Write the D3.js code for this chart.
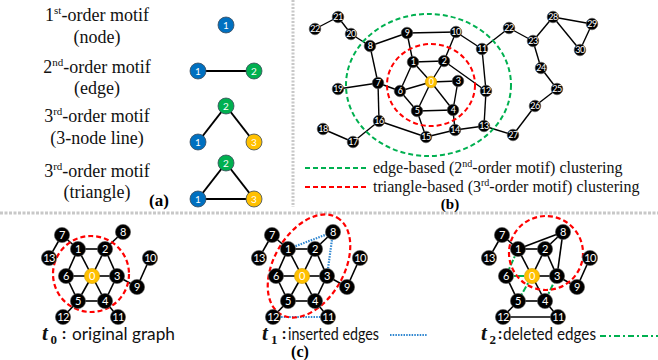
<!DOCTYPE html>
<html>
<head>
<meta charset="utf-8">
<script src="https://cdn.jsdelivr.net/npm/d3@7/dist/d3.min.js"></script>
<style>
  html, body { margin: 0; padding: 0; background: #fff; }
  svg { display: block; }
</style>
</head>
<body>
<script>
// ---------- (a) motif definitions ----------
const motifOrder = ["1", "2", "3", "3"];
const motifSuffix = ["st", "nd", "rd", "rd"];
const motifKind = ["(node)", "(edge)", "(3-node line)", "(triangle)"];
// node: [label, column (0..1), level (0 = top, 1 = bottom)]
const motifNodes = [
  [[1, 0.5, 0]],
  [[1, 0, 0], [2, 1, 0]],
  [[1, 0, 1], [2, 0.5, 0], [3, 1, 1]],
  [[1, 0, 1], [2, 0.5, 0], [3, 1, 1]]
];
const motifEdges = [
  [],
  [[1, 2]],
  [[1, 2], [2, 3]],
  [[1, 2], [2, 3], [1, 3]]
];

// ---------- (b) network ----------
// [id, label, x, y] in layout units
const netNodes = [
  ["0", "0", 141, 82], ["1", "1", 123, 62], ["2", "2", 154, 61], ["3", "3", 168, 81],
  ["4", "4", 163, 110], ["5", "5", 127, 111], ["6", "6", 110, 91], ["7", "7", 88, 83],
  ["8", "8", 80, 46], ["9", "9", 117, 33], ["10", "10", 166, 32], ["11", "11", 192, 49],
  ["12", "12", 196, 91], ["13", "13", 194, 126], ["14", "14", 165, 130], ["15", "15", 136, 137],
  ["16", "16", 89, 121], ["17", "17", 63, 142], ["18", "18", 33, 129], ["19", "19", 48, 89],
  ["20", "20", 61, 34], ["21", "21", 48, 17], ["22", "22", 25, 29], ["22b", "22", 219, 28],
  ["23", "23", 243, 41], ["24", "24", 251, 68], ["25", "25", 267, 89], ["26", "26", 245, 106],
  ["27", "27", 223, 135], ["28", "28", 263, 17], ["29", "29", 302, 24], ["30", "30", 290, 50]
];
const netEdges = [
  ["22", "21"], ["21", "20"], ["20", "8"], ["8", "9"], ["9", "10"], ["8", "7"],
  ["9", "1"], ["10", "2"], ["10", "11"], ["11", "12"], ["11", "22b"], ["22b", "23"],
  ["23", "28"], ["28", "29"], ["29", "30"], ["30", "28"], ["23", "24"], ["24", "25"],
  ["25", "26"], ["26", "27"], ["27", "13"], ["12", "13"], ["13", "14"], ["14", "15"],
  ["15", "16"], ["16", "7"], ["16", "17"], ["17", "18"], ["7", "19"], ["7", "6"],
  ["6", "1"], ["6", "0"], ["6", "5"], ["1", "0"], ["1", "2"], ["2", "0"], ["2", "12"],
  ["0", "3"], ["0", "4"], ["0", "5"], ["3", "4"], ["4", "5"], ["5", "15"], ["4", "14"]
];
const legendItems = [
  ["edge-based (2", "nd", "-order motif) clustering"],
  ["triangle-based (3", "rd", "-order motif) clustering"]
];

// ---------- (c) dynamic graph ----------
// [label, dx, dy] relative to node 0
const dynNodes = [
  ["0", 0, 0], ["1", -14, -27], ["2", 13, -27], ["3", 25, 0], ["4", 13, 25],
  ["5", -14, 25], ["6", -26, 0], ["7", -30, -41], ["8", 31, -44], ["9", 45, 11],
  ["10", 58, -18], ["11", 26, 41], ["12", -29, 41], ["13", -43, -18]
];
const baseEdges = [
  ["7", "13"], ["7", "1"], ["1", "2"], ["2", "8"], ["1", "6"], ["1", "0"], ["2", "0"],
  ["2", "3"], ["6", "0"], ["0", "3"], ["3", "9"], ["9", "10"], ["6", "5"], ["0", "5"],
  ["0", "4"], ["5", "4"], ["4", "3"], ["5", "12"], ["4", "11"]
];
const insertedEdges = [["1", "8"], ["8", "3"], ["12", "11"]];
const deletedEdges = [["1", "6"], ["6", "0"], ["0", "5"], ["4", "3"]];
const stepNames = ["0", "1", "2"];
const stepCaptions = ["original graph", "inserted edges", "deleted edges"];

// ---------- drawing ----------
const W = 658, H = 360;
const BLUE = "#0070C0", GREEN = "#00B050", YELLOW = "#FFC000", RED = "#FF0000";
const motifColor = { 1: BLUE, 2: GREEN, 3: YELLOW };
const SERIF = "'Liberation Serif', 'Times New Roman', serif";
const SANS = "Lato, 'Liberation Sans', sans-serif";

const svg = d3.select("body").append("svg")
  .attr("width", W).attr("height", H)
  .attr("viewBox", `0 0 ${W} ${H}`);
svg.append("rect").attr("width", W).attr("height", H).attr("fill", "#fff");

// panel separators
svg.append("line").attr("x1", 293).attr("x2", 293).attr("y1", 0).attr("y2", 207)
  .attr("stroke", "#c8c8c8").attr("stroke-width", 3).attr("stroke-dasharray", "2,1.5");
svg.append("line").attr("x1", 0).attr("x2", W).attr("y1", 213).attr("y2", 213)
  .attr("stroke", "#c8c8c8").attr("stroke-width", 3).attr("stroke-dasharray", "3,1.5");

// ===== (a) =====
const gA = svg.append("g");
const textY = [[21, 43], [73, 94], [122, 144], [177, 198]];
const mx = d3.scaleLinear().domain([0, 1]).range([198, 254]);
const rowTop = [25, 71, 106, 163];
const levelGap = 36;
const my = (row, lvl) => rowTop[row] + lvl * levelGap;

motifOrder.forEach((ord, i) => {
  const t = gA.append("text").attr("x", 97).attr("y", textY[i][0])
    .attr("text-anchor", "middle").attr("font-family", SERIF).attr("font-size", 18).attr("fill", "#111");
  t.append("tspan").text(ord);
  t.append("tspan").attr("font-size", 11).attr("dy", -7).text(motifSuffix[i]);
  t.append("tspan").attr("dy", 7).text("-order motif");
  gA.append("text").attr("x", 97).attr("y", textY[i][1])
    .attr("text-anchor", "middle").attr("font-family", SERIF).attr("font-size", 18).attr("fill", "#111")
    .text(motifKind[i]);

  const pos = {};
  motifNodes[i].forEach(([id, c, l]) => { pos[id] = [mx(c), my(i, l)]; });
  motifEdges[i].forEach(([a, b]) => {
    gA.append("line").attr("x1", pos[a][0]).attr("y1", pos[a][1])
      .attr("x2", pos[b][0]).attr("y2", pos[b][1])
      .attr("stroke", "#000").attr("stroke-width", 2);
  });
  motifNodes[i].forEach(([id]) => {
    gA.append("circle").attr("cx", pos[id][0]).attr("cy", pos[id][1]).attr("r", 8)
      .attr("fill", motifColor[id]).attr("stroke", "#3b4a5a").attr("stroke-width", 0.8);
    gA.append("text").attr("x", pos[id][0]).attr("y", pos[id][1] + 3.5)
      .attr("text-anchor", "middle").attr("font-family", SANS).attr("font-size", 10)
      .attr("fill", "#fff").text(id);
  });
});
gA.append("text").attr("x", 159).attr("y", 206).attr("text-anchor", "middle")
  .attr("font-family", SERIF).attr("font-size", 17).attr("font-weight", "bold").text("(a)");

// ===== (b) =====
const gB = svg.append("g");
const bx = d3.scaleLinear().domain([0, 370]).range([290, 660]);
const by = d3.scaleLinear().domain([0, 160]).range([0, 160]);
const nodeById = new Map(netNodes.map(n => [n[0], n]));

gB.selectAll("line.edge").data(netEdges).join("line").attr("class", "edge")
  .attr("x1", d => bx(nodeById.get(d[0])[2]))
  .attr("y1", d => by(nodeById.get(d[0])[3]))
  .attr("x2", d => bx(nodeById.get(d[1])[2]))
  .attr("y2", d => by(nodeById.get(d[1])[3]))
  .attr("stroke", "#000").attr("stroke-width", 1.4);

// cluster outlines
gB.append("ellipse").attr("cx", 428.5).attr("cy", 85).attr("rx", 82.5).attr("ry", 71)
  .attr("fill", "none").attr("stroke", GREEN).attr("stroke-width", 2).attr("stroke-dasharray", "5,3");
gB.append("ellipse").attr("cx", 431).attr("cy", 85).attr("rx", 44).attr("ry", 41)
  .attr("fill", "none").attr("stroke", RED).attr("stroke-width", 2).attr("stroke-dasharray", "5,3");

const bNode = gB.selectAll("g.node").data(netNodes).join("g").attr("class", "node")
  .attr("transform", d => `translate(${bx(d[2])},${by(d[3])})`);
bNode.append("circle").attr("r", 5.8)
  .attr("fill", d => d[0] === "0" ? YELLOW : "#000")
  .attr("stroke", d => d[0] === "0" ? "#c99a00" : "#555").attr("stroke-width", 0.6);
bNode.append("text").attr("y", 3.2).attr("text-anchor", "middle")
  .attr("font-family", SANS).attr("font-size", 9).attr("fill", "#fff")
  .attr("letter-spacing", -0.5).text(d => d[1]);

// legend
const legendColors = [GREEN, RED];
legendItems.forEach((parts, i) => {
  const y = 168 + i * 19;
  gB.append("line").attr("x1", 305).attr("x2", 366).attr("y1", y).attr("y2", y)
    .attr("stroke", legendColors[i]).attr("stroke-width", 2).attr("stroke-dasharray", "5,3");
  const t = gB.append("text").attr("x", 373).attr("y", y + 5)
    .attr("font-family", SERIF).attr("font-size", 16).attr("fill", "#111");
  t.append("tspan").text(parts[0]);
  t.append("tspan").attr("font-size", 10).attr("dy", -6).text(parts[1]);
  t.append("tspan").attr("dy", 6).text(parts[2]);
});
gB.append("text").attr("x", 450).attr("y", 209).attr("text-anchor", "middle")
  .attr("font-family", SERIF).attr("font-size", 15).attr("font-weight", "bold").text("(b)");

// ===== (c) =====
const cx = d3.scaleLinear().domain([-60, 60]).range([-60, 60]);
const cy = d3.scaleLinear().domain([-60, 60]).range([-60, 60]);
const panelOrigin = [[92, 276], [302, 276], [532, 276]];
const key = e => e.slice().sort().join("-");
const deletedKeys = new Set(deletedEdges.map(key));
const stepEdges = [
  baseEdges,
  baseEdges,
  baseEdges.concat(insertedEdges).filter(e => !deletedKeys.has(key(e)))
];
const stepAdded = [[], insertedEdges, []];
const stepRemoved = [[], [], deletedEdges];

const dPos = new Map(dynNodes.map(d => [d[0], [cx(d[1]), cy(d[2])]]));

function drawEdges(g, edges, stroke, width, dash) {
  g.selectAll(null).data(edges).join("line")
    .attr("x1", d => dPos.get(d[0])[0]).attr("y1", d => dPos.get(d[0])[1])
    .attr("x2", d => dPos.get(d[1])[0]).attr("y2", d => dPos.get(d[1])[1])
    .attr("stroke", stroke).attr("stroke-width", width)
    .attr("stroke-dasharray", dash);
}

stepNames.forEach((s, i) => {
  const g = svg.append("g").attr("transform", `translate(${panelOrigin[i][0]},${panelOrigin[i][1]})`);
  drawEdges(g, stepEdges[i], "#000", 1.6, null);
  drawEdges(g, stepAdded[i], "#2E86D0", 2.2, "1.5,1.2");
  drawEdges(g, stepRemoved[i], GREEN, 2, "6,2,2,2");

  // cluster outline
  if (i === 0) {
    g.append("ellipse").attr("cx", -1).attr("cy", -2).attr("rx", 38).attr("ry", 38);
  } else if (i === 1) {
    g.append("ellipse").attr("cx", 0).attr("cy", 0).attr("rx", 56).attr("ry", 35)
      .attr("transform", "translate(7,-10) rotate(-60)");
  } else {
    g.append("ellipse").attr("cx", 14).attr("cy", -23).attr("rx", 37).attr("ry", 37);
  }
  g.select("ellipse").attr("fill", "none").attr("stroke", RED)
    .attr("stroke-width", 2.2).attr("stroke-dasharray", "5,3");

  const n = g.selectAll("g.node").data(dynNodes).join("g").attr("class", "node")
    .attr("transform", d => `translate(${cx(d[1])},${cy(d[2])})`);
  n.append("circle").attr("r", 7.6)
    .attr("fill", d => d[0] === "0" ? YELLOW : "#000")
    .attr("stroke", d => d[0] === "0" ? "#c99a00" : "#555").attr("stroke-width", 0.6);
  n.append("text").attr("y", 3.8).attr("text-anchor", "middle")
    .attr("font-family", SANS).attr("font-size", 11).attr("fill", "#fff")
    .attr("letter-spacing", -0.5).text(d => d[0]);
});

// captions
const capX = [[42, 50.5, 62, 72, 103], [262, 271, 282, 288, 91], [481, 489.5, 498, 503, 93]];
stepNames.forEach((s, i) => {
  const [tx, sx, colx, wx, wlen] = capX[i];
  svg.append("text").attr("x", tx).attr("y", 340)
    .attr("font-family", SERIF).attr("font-size", 21).attr("font-weight", "bold")
    .attr("font-style", "italic").attr("fill", "#111").text("t");
  svg.append("text").attr("x", sx).attr("y", 344)
    .attr("font-family", SERIF).attr("font-size", 13).attr("font-weight", "bold")
    .attr("fill", "#111").text(s);
  svg.append("text").attr("x", colx).attr("y", 339)
    .attr("font-family", SANS).attr("font-size", 16).attr("font-weight", "bold")
    .attr("fill", "#111").text(":");
  svg.append("text").attr("x", wx).attr("y", 340)
    .attr("font-family", SANS).attr("font-size", 17).attr("fill", "#111")
    .attr("textLength", wlen).attr("lengthAdjust", "spacingAndGlyphs").text(stepCaptions[i]);
});
// legend strokes for inserted / deleted edges
svg.append("line").attr("x1", 390).attr("x2", 427).attr("y1", 335).attr("y2", 335)
  .attr("stroke", "#2E86D0").attr("stroke-width", 2.2).attr("stroke-dasharray", "1.5,1.2");
svg.append("line").attr("x1", 600).attr("x2", 658).attr("y1", 336).attr("y2", 336)
  .attr("stroke", GREEN).attr("stroke-width", 2).attr("stroke-dasharray", "6,3,2,3");
svg.append("text").attr("x", 300).attr("y", 357).attr("text-anchor", "middle")
  .attr("font-family", SERIF).attr("font-size", 16).attr("font-weight", "bold").text("(c)");
</script>
</body>
</html>
